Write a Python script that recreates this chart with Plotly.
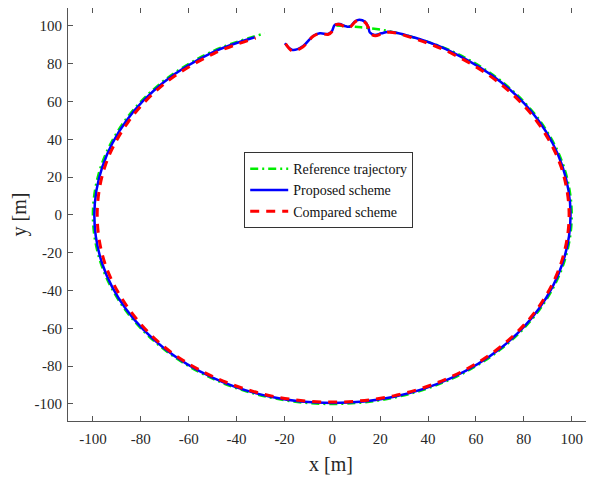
import plotly.graph_objects as go

# Reference trajectory (green dash-dot)
ref_x = [1.7, 12.0, 25.9, 50.0, 70.7, 86.6, 96.6, 100.0, 96.6, 86.6, 70.7, 50.0, 25.9, 0.0,
         -25.9, -50.0, -70.7, -86.6, -96.6, -100.0, -96.6, -86.6, -70.7, -50.0, -28.2]
ref_y = [100.3, 99.3, 96.6, 86.6, 70.7, 50.0, 25.9, 0.0, -25.9, -50.0, -70.7, -86.6, -96.6, -100.0,
         -96.6, -86.6, -70.7, -50.0, -25.9, 0.0, 25.9, 50.0, 70.7, 86.6, 96.1]

# Proposed scheme (blue solid)
pro_x = [-19.8, -16.6, -12.2, -8.0, -5.2, -1.8, -0.3, 1.0, 3.1, 5.2, 7.3, 9.4, 10.8, 13.6, 15.0,
         15.7, 17.7, 20.5, 24.0, 35.0, 50.0, 70.4, 86.2, 96.1, 99.5, 96.1, 86.2, 70.4, 49.8, 25.8,
         0.0, -25.8, -49.8, -70.4, -86.2, -96.1, -99.4, -96.0, -86.1, -70.3, -49.8, -32.4]
pro_y = [90.8, 87.3, 89.4, 94.7, 96.1, 95.8, 97.0, 100.5, 101.0, 100.0, 99.6, 102.3, 103.2, 102.3, 99.6,
         96.5, 95.2, 96.1, 97.0, 93.6, 86.2, 70.4, 49.8, 25.8, 0.0, -25.8, -49.8, -70.4, -86.2, -96.2,
         -99.5, -96.2, -86.2, -70.4, -49.8, -25.8, 0.0, 25.7, 49.7, 70.3, 86.1, 94.0]

# Compared scheme (red dashed)
com_x = [-19.5, -16.6, -12.2, -8.0, -5.2, -1.8, -0.3, 1.0, 3.1, 5.2, 7.3, 9.4, 10.8, 13.6, 15.0,
         15.9, 18.0, 20.5, 24.0, 35.0, 49.5, 69.8, 85.5, 95.5, 98.9, 95.5, 85.7, 70.0, 49.5, 25.6,
         0.0, -25.6, -49.5, -70.0, -85.2, -95.0, -98.2, -95.0, -85.2, -69.8, -49.3, -32.0]
com_y = [90.6, 86.8, 89.0, 94.5, 96.0, 95.5, 96.8, 100.3, 100.8, 99.6, 99.3, 102.0, 103.0, 102.0, 99.3,
         96.0, 94.8, 95.8, 96.7, 93.0, 85.7, 69.8, 49.4, 25.6, 0.0, -25.6, -49.5, -70.0, -85.7, -95.7,
         -99.0, -95.7, -85.7, -70.0, -49.3, -25.5, 0.0, 25.5, 49.3, 69.8, 85.5, 93.6]

x_ticks = [-100, -80, -60, -40, -20, 0, 20, 40, 60, 80, 100]
y_ticks = [-100, -80, -60, -40, -20, 0, 20, 40, 60, 80, 100]

fig = go.Figure()
fig.add_trace(go.Scatter(x=ref_x, y=ref_y, mode="lines", name="Reference trajectory",
                         line=dict(color="#00ee00", width=2.5, dash="8px,4px,2px,4px", shape="spline")))
fig.add_trace(go.Scatter(x=pro_x, y=pro_y, mode="lines", name="Proposed scheme",
                         line=dict(color="#0000ff", width=2.5, shape="spline")))
fig.add_trace(go.Scatter(x=com_x, y=com_y, mode="lines", name="Compared scheme",
                         line=dict(color="#ff0000", width=3, dash="9px,7px", shape="spline")))

axis_common = dict(
    showgrid=False, zeroline=False, showline=True, linecolor="#555555", linewidth=1,
    mirror="ticks", ticks="inside", ticklen=5, tickcolor="#555555", automargin=False,
    tickfont=dict(family="Liberation Serif", size=15, color="#262626"),
)

fig.update_layout(
    width=586, height=470,
    margin=dict(l=60, r=0, t=0, b=57),
    paper_bgcolor="white", plot_bgcolor="white",
    xaxis=dict(range=[-110.4, 109.3], tickvals=x_ticks, ticktext=[str(v) for v in x_ticks],
               ticklabelstandoff=4,
               title=dict(text="x [m]", font=dict(family="Liberation Serif", size=20, color="#262626"),
                          standoff=10),
               **axis_common),
    yaxis=dict(range=[-109, 109.5], tickvals=y_ticks, ticktext=[str(v) for v in y_ticks],
               ticklabelstandoff=2,
               title=dict(text="y [m]", font=dict(family="Liberation Serif", size=20, color="#262626"),
                          standoff=8),
               **axis_common),
    legend=dict(x=0.335, y=0.651, xanchor="left", yanchor="top",
                bordercolor="#333333", borderwidth=1, bgcolor="white",
                font=dict(family="Liberation Serif", size=14, color="#111111"),
                tracegroupgap=0, itemwidth=38),
    showlegend=True,
)

fig.write_html("out.html")
